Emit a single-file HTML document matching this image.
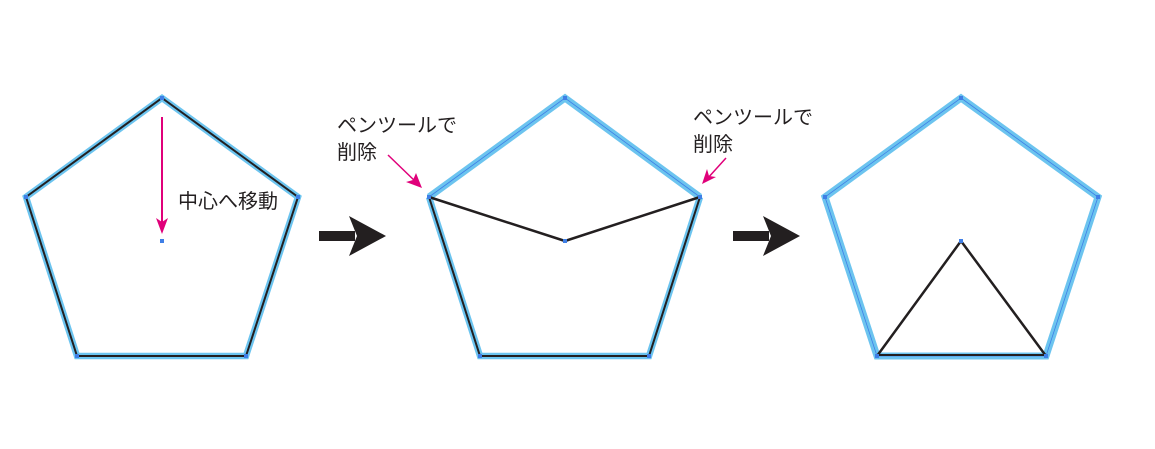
<!DOCTYPE html>
<html><head><meta charset="utf-8"><style>
html,body{margin:0;padding:0;background:#fff;}
svg{display:block;}
text{font-family:"Liberation Sans","Noto Sans CJK JP",sans-serif;fill:#231f20;font-size:20px;}
</style></head><body>
<svg width="1155" height="449" viewBox="0 0 1155 449" xmlns="http://www.w3.org/2000/svg">
<!-- Pentagon 1 -->
<polygon points="162,98 298,197 246,356 77,356 26,197" fill="none" stroke="#6cc4ef" stroke-width="6.5" stroke-linejoin="miter"/>
<polygon points="162,98 298,197 246,356 77,356 26,197" fill="none" stroke="#231f20" stroke-width="2"/>
<g fill="#3f7fe6">
<rect x="160" y="96" width="4" height="4"/><rect x="296" y="195" width="4" height="4"/><rect x="24" y="195" width="4" height="4"/><rect x="75" y="354" width="4" height="4"/><rect x="244" y="354" width="4" height="4"/><rect x="160" y="239" width="4" height="4"/>
</g>
<line x1="162" y1="117" x2="162" y2="222" stroke="#e0007a" stroke-width="2"/>
<path d="M156,218 L162,234 L168,218 L162,222 Z" fill="#e0007a"/>
<text x="178" y="208">中心へ移動</text>

<!-- Arrow 1 -->
<rect x="319" y="231" width="36" height="10" fill="#231f20"/>
<path d="M349,216 L386,236 L349,256 L357,236 Z" fill="#231f20"/>

<!-- Pentagon 2 -->
<polyline points="429,197 565,98 700,197" fill="none" stroke="#6cc4ef" stroke-width="7"/>
<polyline points="429,197 565,98 700,197" fill="none" stroke="#3f7fe6" stroke-width="0.8"/>
<polyline points="429,197 480,356 649,356 700,197" fill="none" stroke="#6cc4ef" stroke-width="6.5"/>
<polyline points="429,197 480,356 649,356 700,197" fill="none" stroke="#231f20" stroke-width="2"/>
<polyline points="429,197 565,241 700,197" fill="none" stroke="#231f20" stroke-width="2.5"/>
<g fill="#3f7fe6">
<rect x="563" y="96" width="4" height="4"/><rect x="427" y="195" width="4" height="4"/><rect x="698" y="195" width="4" height="4"/><rect x="478" y="354" width="4" height="4"/><rect x="647" y="354" width="4" height="4"/><rect x="563" y="239" width="4" height="4"/>
</g>
<text x="337" y="132">ペンツールで</text>
<text x="337" y="159">削除</text>
<line x1="388" y1="155" x2="417" y2="183" stroke="#e0007a" stroke-width="1.5"/>
<path d="M422,188 L406,182 L413,180 L416,173 Z" fill="#e0007a"/>
<text x="693" y="124">ペンツールで</text>
<text x="693" y="151">削除</text>
<line x1="726" y1="158" x2="707" y2="179" stroke="#e0007a" stroke-width="1.5"/>
<path d="M702,184 L707,169 L709,176 L716,177 Z" fill="#e0007a"/>

<!-- Arrow 2 -->
<rect x="733" y="231" width="36" height="10" fill="#231f20"/>
<path d="M763,216 L800,236 L763,256 L771,236 Z" fill="#231f20"/>

<!-- Pentagon 3 -->
<polygon points="961,98 1098,197 1046,356 877,356 825,197" fill="none" stroke="#6cc4ef" stroke-width="7"/>
<polygon points="961,98 1098,197 1046,356 877,356 825,197" fill="none" stroke="#3f7fe6" stroke-width="0.8"/>
<polyline points="877,356 961,241 1046,356" fill="none" stroke="#231f20" stroke-width="2.5"/>
<line x1="877" y1="355" x2="1046" y2="355" stroke="#231f20" stroke-width="2"/>
<g fill="#3f7fe6">
<rect x="959" y="96" width="4" height="4"/><rect x="823" y="195" width="4" height="4"/><rect x="1096" y="195" width="4" height="4"/><rect x="875" y="354" width="4" height="4"/><rect x="1044" y="354" width="4" height="4"/><rect x="959" y="239" width="4" height="4"/>
</g>
</svg>
</body></html>
